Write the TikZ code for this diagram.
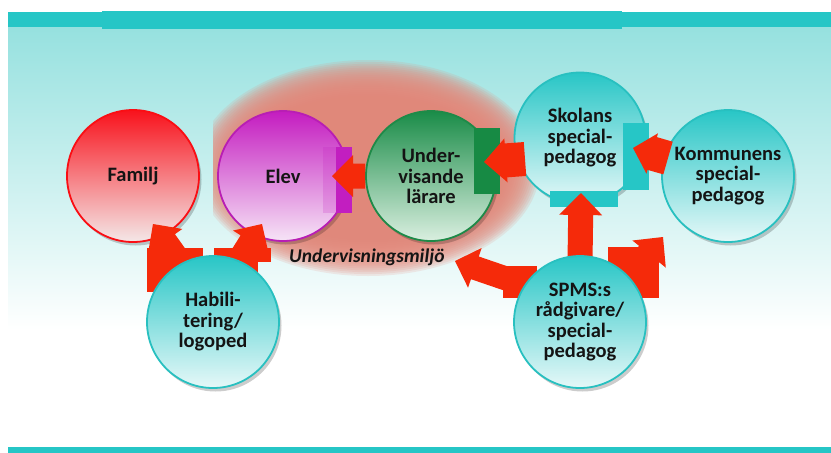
\documentclass[tikz,border=0pt]{standalone}
\usepackage{fontspec}
\setmainfont{Carlito}
\usetikzlibrary{calc,shadows}
\definecolor{barteal}{HTML}{26C6C6}
\definecolor{bgtop}{HTML}{96E1DF}
\definecolor{glowc}{HTML}{E6887A}
\definecolor{arrred}{HTML}{F52A0A}
\definecolor{txt}{HTML}{141414}
\definecolor{famT}{HTML}{F8121C}
\definecolor{famB}{HTML}{F4E8E8}
\definecolor{famD}{HTML}{FA0E14}
\definecolor{elvT}{HTML}{C41CC0}
\definecolor{elvB}{HTML}{F6E4F6}
\definecolor{elvD}{HTML}{B81EB4}
\definecolor{grnT}{HTML}{1A8C48}
\definecolor{grnB}{HTML}{DAEFE0}
\definecolor{grnD}{HTML}{1E8A48}
\definecolor{tlT}{HTML}{28C6C6}
\definecolor{tlB}{HTML}{E6F8F8}
\definecolor{tlD}{HTML}{28C0C0}
\definecolor{purp}{HTML}{C21EC0}
\definecolor{grnr}{HTML}{178A44}
\tikzset{
  circ/.style={circle, minimum size=132pt, inner sep=0pt, line width=1.8pt,
    align=center, text=txt, font=\bfseries\fontsize{20.5}{20.5}\selectfont,
    drop shadow={shadow xshift=2.5pt, shadow yshift=-3.5pt, opacity=0.2, fill=black}},
  redcirc/.style={circ, draw=famD, top color=famT, bottom color=famB},
  purpcirc/.style={circ, draw=elvD, top color=elvT, bottom color=elvB},
  greencirc/.style={circ, draw=grnD, top color=grnT, bottom color=grnB},
  tealcirc/.style={circ, draw=tlD, top color=tlT, bottom color=tlB},
}
\newcommand\blockarr[5]{%
  \path ($(#2)!#4!(#1)$) coordinate (ba-m);
  \fill[arrred] ($(#1)!#3!90:(#2)$) -- ($(ba-m)!#3!-90:(#1)$) -- ($(ba-m)!#5!-90:(#1)$)
    -- (#2) -- ($(ba-m)!#5!90:(#1)$) -- ($(ba-m)!#3!90:(#1)$) -- ($(#1)!#3!-90:(#2)$) -- cycle;}
\begin{document}
\begin{tikzpicture}[x=1pt,y=1pt]
\useasboundingbox (0,0) rectangle (831,-453);
\fill[white] (0,0) rectangle (831,-453);
% background
\shade[top color=bgtop, bottom color=white] (8,-27) rectangle (831,-330);
\fill[barteal] (8,-12) rectangle (831,-27);
\fill[barteal] (102,-11) rectangle (622,-29);
\fill[barteal] (8,-447) rectangle (831,-453);
% glow
\begin{scope}
  \clip (213,-60) rectangle (560,-290);
  \foreach \k in {0,...,19}{
    \pgfmathsetmacro\rx{172-2.2*\k}
    \pgfmathsetmacro\ry{108-1.9*\k}
    \fill[glowc, fill opacity=0.16] (368,-168) ellipse [x radius=\rx pt, y radius=\ry pt];
  }
\end{scope}
% circles (back)
\node[redcirc] (familj) at (133,-176) {Familj};
\node[purpcirc, minimum size=130pt] (elev) at (283,-176) {Elev};
\node[greencirc, minimum size=130pt] (under) at (431,-176) {Under-\\visande\\lärare};
\node[tealcirc, minimum size=131pt] (skolans) at (580,-138) {Skolans\\special-\\pedagog};
\node[tealcirc] (kommun) at (728,-176) {Kommunens\\special-\\pedagog};
% label
\node[anchor=base west, inner sep=0pt, text=txt,
  font=\bfseries\itshape\fontsize{19.5}{20}\selectfont] (miljo) at (289,-262) {Undervisningsmiljö};
% block pieces
\fill[purp, opacity=0.2] (323,-147) rectangle (336,-213);
\fill[purp] (336,-147) rectangle (352,-213);
\fill[grnr] (474,-128) rectangle (500,-194);
\fill[barteal] (623,-123) rectangle (649,-190);
\fill[barteal] (550,-191) rectangle (618,-207);
\fill[arrred] (147,-248) rectangle (203,-292);
\fill[arrred] (214,-248) rectangle (271,-262);
\fill[arrred] (214,-262) rectangle (258,-290);
\fill[arrred] (608,-247) rectangle (659,-298);
\fill[arrred] (503,-266) rectangle (537,-298);
% arrow ends
\coordinate (tUE) at (332,-176);
\coordinate (sSU) at (525,-159);
\coordinate (tSU) at (484,-162);
\coordinate (sKS) at (668,-158);
\coordinate (tKS) at (633,-148);
\coordinate (sPS) at (580,-262);
\coordinate (tPS) at (581,-193);
\coordinate (sPK) at (628,-280);
\coordinate (tPK) at (663,-237);
\coordinate (sPU) at (522,-284);
\coordinate (tPU) at (455,-261);
\coordinate (sHF) at (180,-262);
\coordinate (tHF) at (153,-224);
\coordinate (sHE) at (238,-262);
\coordinate (tHE) at (262,-224);
% arrows
\blockarr{under.west}{tUE}{12.5pt}{21pt}{21pt}
\blockarr{sSU}{tSU}{17pt}{22pt}{22pt}
\blockarr{sKS}{tKS}{17pt}{20pt}{21pt}
\blockarr{sPS}{tPS}{12.5pt}{22pt}{21.5pt}
\blockarr{sPK}{tPK}{13pt}{22pt}{21.5pt}
\blockarr{sPU}{tPU}{12pt}{21pt}{21pt}
\blockarr{sHF}{tHF}{12pt}{21pt}{21pt}
\blockarr{sHE}{tHE}{12pt}{21pt}{21pt}
% circles (front)
\node[tealcirc] (habil) at (213,-322) {Habili-\\tering/\\logoped};
\node[tealcirc] (spms) at (580,-322) {SPMS:s\\rådgivare/\\special-\\pedagog};
\end{tikzpicture}
\end{document}
